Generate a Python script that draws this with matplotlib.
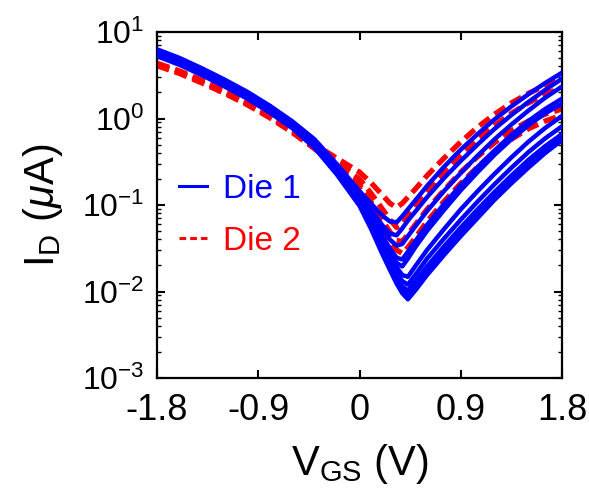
import numpy as np
import matplotlib
matplotlib.use('Agg')
import matplotlib.pyplot as plt
from matplotlib.lines import Line2D

plt.rcParams['font.family'] = ['Liberation Sans', 'DejaVu Sans']
plt.rcParams['mathtext.fontset'] = 'custom'
plt.rcParams['mathtext.rm'] = 'Liberation Sans'
plt.rcParams['mathtext.it'] = 'Liberation Sans:italic'

# gate voltage grid (V)
vgs = [-1.8, -1.6, -1.4, -1.2, -1.0, -0.8, -0.6, -0.4, -0.2, 0.0,
       0.1, 0.2, 0.27, 0.33, 0.38, 0.43, 0.5, 0.6, 0.75, 0.9,
       1.05, 1.2, 1.35, 1.5, 1.65, 1.8]

# log10 of drain current (uA)
die1_log = [
    [0.80, 0.70, 0.58, 0.45, 0.31, 0.15, -0.03, -0.24, -0.53, -0.84,
     -0.98, -1.12, -1.19, -1.20, -1.13, -1.05, -0.94, -0.78, -0.56, -0.36,
     -0.18, -0.01, 0.14, 0.28, 0.41, 0.53],
    [0.79, 0.69, 0.57, 0.44, 0.30, 0.14, -0.04, -0.26, -0.56, -0.88,
     -1.05, -1.23, -1.33, -1.35, -1.27, -1.18, -1.07, -0.91, -0.69, -0.49,
     -0.30, -0.12, 0.04, 0.19, 0.33, 0.46],
    [0.78, 0.68, 0.56, 0.43, 0.29, 0.13, -0.05, -0.27, -0.58, -0.90,
     -1.08, -1.28, -1.40, -1.47, -1.45, -1.36, -1.24, -1.07, -0.84, -0.63,
     -0.43, -0.24, -0.07, 0.09, 0.24, 0.37],
    [0.77, 0.67, 0.55, 0.42, 0.28, 0.12, -0.06, -0.28, -0.59, -0.92,
     -1.13, -1.36, -1.50, -1.61, -1.63, -1.54, -1.41, -1.23, -0.99, -0.77,
     -0.56, -0.37, -0.19, -0.03, 0.11, 0.23],
    [0.76, 0.66, 0.54, 0.41, 0.27, 0.11, -0.07, -0.29, -0.60, -0.93,
     -1.15, -1.39, -1.54, -1.67, -1.71, -1.62, -1.48, -1.30, -1.06, -0.83,
     -0.62, -0.42, -0.24, -0.08, 0.06, 0.17],
    [0.75, 0.65, 0.53, 0.40, 0.26, 0.10, -0.08, -0.30, -0.61, -0.95,
     -1.18, -1.43, -1.59, -1.72, -1.81, -1.83, -1.70, -1.52, -1.28, -1.05,
     -0.84, -0.64, -0.45, -0.27, -0.11, 0.03],
    [0.74, 0.64, 0.52, 0.39, 0.25, 0.09, -0.09, -0.31, -0.62, -0.97,
     -1.21, -1.47, -1.64, -1.78, -1.88, -1.92, -1.80, -1.62, -1.39, -1.17,
     -0.96, -0.76, -0.57, -0.39, -0.23, -0.09],
    [0.74, 0.64, 0.52, 0.39, 0.25, 0.09, -0.09, -0.32, -0.63, -0.98,
     -1.23, -1.50, -1.68, -1.83, -1.94, -1.99, -1.88, -1.71, -1.48, -1.26,
     -1.05, -0.85, -0.66, -0.48, -0.32, -0.18],
    [0.73, 0.63, 0.51, 0.38, 0.24, 0.08, -0.10, -0.33, -0.64, -0.99,
     -1.25, -1.53, -1.71, -1.87, -1.98, -2.04, -1.93, -1.76, -1.53, -1.31,
     -1.10, -0.90, -0.71, -0.53, -0.37, -0.22],
    [0.72, 0.62, 0.50, 0.37, 0.23, 0.07, -0.11, -0.34, -0.65, -1.01,
     -1.27, -1.56, -1.75, -1.91, -2.02, -2.09, -1.98, -1.81, -1.58, -1.36,
     -1.15, -0.94, -0.75, -0.57, -0.40, -0.25],
]

die2_log = [
    [0.64, 0.55, 0.44, 0.32, 0.19, 0.04, -0.13, -0.30, -0.46, -0.62,
     -0.74, -0.88, -0.98, -1.03, -0.98, -0.91, -0.81, -0.66, -0.46, -0.27,
     -0.10, 0.05, 0.18, 0.29, 0.38, 0.46],
    [0.63, 0.54, 0.43, 0.31, 0.18, 0.03, -0.14, -0.32, -0.51, -0.70,
     -0.86, -1.04, -1.17, -1.26, -1.22, -1.13, -1.01, -0.84, -0.62, -0.42,
     -0.24, -0.08, 0.06, 0.18, 0.28, 0.36],
    [0.62, 0.53, 0.42, 0.30, 0.17, 0.02, -0.15, -0.34, -0.55, -0.77,
     -0.96, -1.17, -1.31, -1.41, -1.42, -1.34, -1.22, -1.05, -0.83, -0.62,
     -0.44, -0.28, -0.14, -0.03, 0.05, 0.11],
    [0.61, 0.52, 0.41, 0.29, 0.16, 0.01, -0.16, -0.35, -0.57, -0.81,
     -1.02, -1.25, -1.41, -1.52, -1.56, -1.49, -1.37, -1.19, -0.96, -0.75,
     -0.56, -0.39, -0.24, -0.12, -0.03, 0.04],
]

xticks = [-1.8, -0.9, 0, 0.9, 1.8]
xticklabels = ['-1.8', '-0.9', '0', '0.9', '1.8']

fig = plt.figure(figsize=(5.89, 5.0), dpi=100)
ax = fig.add_axes([0.2666, 0.244, 0.6876, 0.692])

for c in die2_log:
    ax.plot(vgs, 10 ** np.array(c), color='#ff0000', lw=3.8,
            linestyle=(0, (2.4, 1.2)), zorder=2)
for c in die1_log:
    ax.plot(vgs, 10 ** np.array(c), color='#0000ff', lw=3.2,
            solid_joinstyle='round', zorder=3)

ax.set_yscale('log')
ax.set_xlim(-1.8, 1.8)
ax.set_ylim(1e-3, 1e1)
ax.set_xticks(xticks)
ax.set_xticklabels(xticklabels)

ax.tick_params(axis='both', which='major', direction='in', length=6, width=1.5,
               top=True, right=True)
ax.tick_params(axis='y', which='minor', direction='in', length=3, width=1.0,
               right=True)
ax.tick_params(axis='x', which='major', labelsize=26, pad=11)
ax.tick_params(axis='y', which='major', labelsize=23, pad=9)
ax.xaxis.set_minor_locator(matplotlib.ticker.NullLocator())
for s in ax.spines.values():
    s.set_linewidth(1.6)

ax.set_xlabel('V$_\\mathrm{GS}$ (V)', fontsize=30, labelpad=10)
ax.set_ylabel('I$_\\mathrm{D}$ ($\\mu$A)', fontsize=30, labelpad=12)

handles = [Line2D([], [], color='#0000ff', lw=2.2),
           Line2D([], [], color='#ff0000', lw=2.2, linestyle=(0, (2.2, 1.3)))]
ax.legend(handles, ['Die 1', 'Die 2'], loc='upper left',
          bbox_to_anchor=(0.055, 0.59), frameon=False, fontsize=24,
          handlelength=0.82, handletextpad=0.5, labelspacing=0.62,
          borderpad=0, borderaxespad=0, labelcolor='linecolor')

fig.savefig('out.png', dpi=100)
